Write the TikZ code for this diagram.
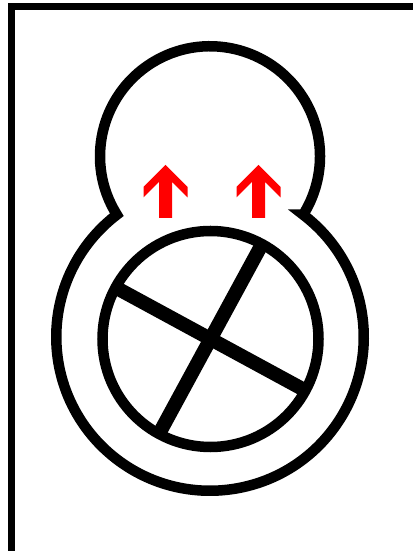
\documentclass[tikz,border=0pt]{standalone}
\usepackage{xcolor}
\usetikzlibrary{calc}

\begin{document}
\begin{tikzpicture}[
    x=1pt, y=1pt,
    frame/.style={draw, line width=7pt, line join=miter},
    hull/.style={draw, line width=10.5pt, line join=miter},
    spoke/.style={draw, line width=14pt},
    lift/.style={fill=red},
]
\useasboundingbox (0,0) rectangle (412,551);
% corner frame (top and left edge only)
\coordinate (fbot) at (11.5,-5);
\coordinate (fcorner) at (11.5,544.5);
\coordinate (fright) at (420,544.5);
\draw[frame] (fbot) -- (fcorner) -- (fright);
% centres of the three circles
\coordinate (head) at (210,395);
\coordinate (body) at (210,214);
\coordinate (wheel) at (210.5,212);
% outline: union of the small upper circle and the big lower one
\draw[hull] ($(body)+(52.7:153.75)$)
      arc[start angle=52.7, end angle=-232.7, radius=153.75]
      arc[start angle=212.1, end angle=-32.1, radius=110] -- cycle;
% the inner wheel with its cross
\draw[hull] (wheel) circle[radius=108];
\draw[spoke] ($(wheel)+(151.5:105)$) -- ($(wheel)+(-28.5:105)$);
\draw[spoke] ($(wheel)+(61.5:105)$) -- ($(wheel)+(241.5:105)$);
% red arrows pointing up
\foreach \x in {165.5,258.5}
  \fill[lift] (\x,386) -- (\x+22,364) -- (\x+22,353.5) -- (\x+6.5,369)
     -- (\x+6.5,333) -- (\x-6.5,333) -- (\x-6.5,369) -- (\x-22,353.5)
     -- (\x-22,364) -- cycle;
\end{tikzpicture}
\end{document}
